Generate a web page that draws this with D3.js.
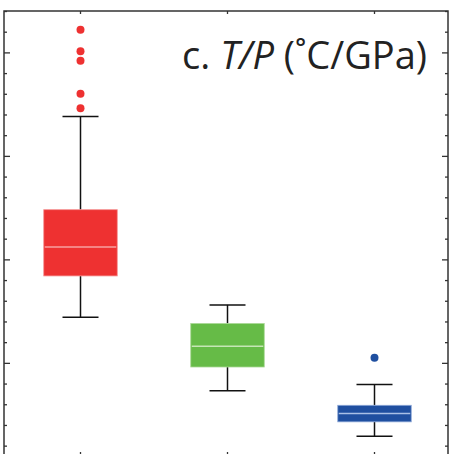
<!DOCTYPE html>
<html><head><meta charset="utf-8">
<script src="https://cdn.jsdelivr.net/npm/d3@7"></script>
<style>html,body{margin:0;padding:0;background:#fff;}svg{display:block;}</style>
</head><body><svg id="c" width="454" height="454"></svg>
<script>
const categories = ["A", "B", "C"];
const whiskerLow = [244, 173, 129];
const q1 = [284, 196, 143];
const median = [312, 216, 151];
const q3 = [348, 238, 159];
const whiskerHigh = [438, 256, 179];
const outliers = [[446, 460, 492, 501, 522], [], [205]];
const fillColors = ["#EE3131", "#66BB47", "#1F4FA0"];
const medianColors = ["#F7A0A0", "#C5E6B5", "#A9C0E6"];
const edgeColors = ["#F49090", "#A9D894", "#8FA8D8"];
const titlePre = "c. ", titleIt = "T/P", titlePost = " (˚C/GPa)";

const svg = d3.select("#c");
const L = 4, R = 448, T = 11, B = 456;
const x = d3.scaleBand().domain(categories).range([7, 448]).paddingInner(0.5).paddingOuter(0.25);
const y = d3.scaleLinear().domain([110, 540]).range([B, T]);
const bw = x.bandwidth();
const cx = c => x(c) + bw / 2;

// frame
svg.append("rect").attr("x", L).attr("y", T).attr("width", R - L).attr("height", B - T)
  .attr("fill", "none").attr("stroke", "#333").attr("stroke-width", 1.5);

// ticks
const minor = d3.range(120, 541, 20);
const axL = d3.axisRight(y).tickValues(minor).tickFormat("").tickSizeOuter(0).tickSize(3);
const gL = svg.append("g").attr("transform", `translate(${L},0)`).call(axL);
const axR = d3.axisLeft(y).tickValues(minor).tickFormat("").tickSizeOuter(0).tickSize(3);
const gR = svg.append("g").attr("transform", `translate(${R},0)`).call(axR);
[gL, gR].forEach((g, i) => {
  g.select(".domain").remove();
  g.selectAll(".tick line").attr("stroke", "#333").attr("stroke-width", 1.3)
    .attr("x2", d => (d % 100 === 0 ? 6 : 3) * (i === 0 ? 1 : -1));
});
const gT = svg.append("g").attr("transform", `translate(0,${T})`)
  .call(d3.axisBottom(x).tickFormat("").tickSize(3).tickSizeOuter(0));
const gB = svg.append("g").attr("transform", `translate(0,${B})`)
  .call(d3.axisTop(x).tickFormat("").tickSize(4).tickSizeOuter(0));
[gT, gB].forEach(g => { g.select(".domain").remove(); g.selectAll(".tick line").attr("stroke", "#333").attr("stroke-width", 1.3); });

// boxes
const capW = 36;
categories.forEach((c, i) => {
  const g = svg.append("g");
  g.append("line").attr("x1", cx(c)).attr("x2", cx(c)).attr("y1", y(whiskerLow[i])).attr("y2", y(q1[i]))
    .attr("stroke", "#111").attr("stroke-width", 1.5);
  g.append("line").attr("x1", cx(c)).attr("x2", cx(c)).attr("y1", y(q3[i])).attr("y2", y(whiskerHigh[i]))
    .attr("stroke", "#111").attr("stroke-width", 1.5);
  [whiskerLow[i], whiskerHigh[i]].forEach(v => {
    g.append("line").attr("x1", cx(c) - capW / 2).attr("x2", cx(c) + capW / 2).attr("y1", y(v)).attr("y2", y(v))
      .attr("stroke", "#111").attr("stroke-width", 1.5);
  });
  g.append("rect").attr("x", x(c)).attr("y", y(q3[i])).attr("width", bw).attr("height", y(q1[i]) - y(q3[i]))
    .attr("fill", fillColors[i]).attr("stroke", edgeColors[i]).attr("stroke-width", 0.8);
  g.append("line").attr("x1", x(c) + 1).attr("x2", x(c) + bw - 1).attr("y1", y(median[i])).attr("y2", y(median[i]))
    .attr("stroke", medianColors[i]).attr("stroke-width", 1.5);
  g.selectAll("circle").data(outliers[i]).join("circle")
    .attr("cx", cx(c)).attr("cy", d => y(d)).attr("r", 4).attr("fill", fillColors[i]);
});

// title
const t = svg.append("text").attr("x", 427).attr("y", 69).attr("text-anchor", "end")
  .attr("font-family", "'Open Sans', 'Noto Sans', sans-serif").attr("font-size", 38).attr("fill", "#222");
t.append("tspan").text(titlePre);
t.append("tspan").attr("font-style", "italic").text(titleIt);
t.append("tspan").text(titlePost);
</script></body></html>
